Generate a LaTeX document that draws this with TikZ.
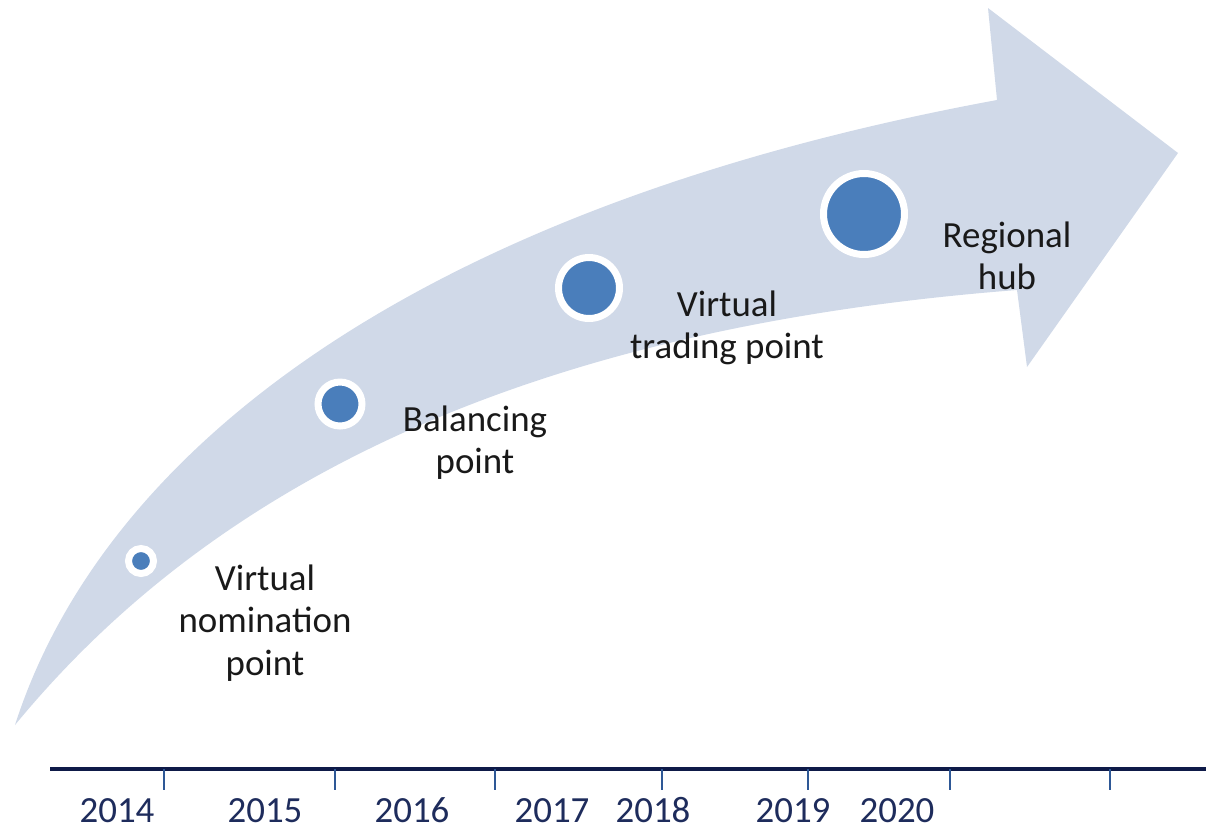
\documentclass[tikz,border=0pt]{standalone}
\usepackage{fontspec}
\setmainfont{Carlito}
\usepackage{xcolor}
\definecolor{shaftblue}{RGB}{208,217,232}
\definecolor{dotblue}{RGB}{74,126,187}
\definecolor{axisnavy}{RGB}{14,26,72}
\definecolor{tickblue}{RGB}{46,88,150}
\definecolor{yearnavy}{RGB}{30,44,92}

\tikzset{
    milestone/.style={circle, fill=dotblue, draw=white, line width=0.14cm, inner sep=0pt},
    stagelabel/.style={align=center, text=black!90, font=\fontsize{21}{24}\selectfont},
    yearlabel/.style={anchor=base, inner ysep=0pt, text depth=0pt, text=yearnavy, font=\fontsize{21}{24}\selectfont}
}

\begin{document}
\begin{tikzpicture}[x=0.02cm, y=-0.02cm]
                \useasboundingbox (0,0) rectangle (1206,833);

                % Freccia curva
                \fill[shaftblue] (15,725)
                    .. controls (100,460) and (400,210) .. (997,100)
                    -- (988,8) -- (1178,153) -- (1027,367) -- (1017,290)
                    .. controls (500,330) and (200,500) .. (15,725) -- cycle;

                % Tappe
                \node[milestone, minimum size=0.5cm] (vnp) at (141,561) {};
                \node[milestone, minimum size=0.88cm] (bp) at (340,404) {};
                \node[milestone, minimum size=1.22cm] (vtp) at (589,288) {};
                \node[milestone, minimum size=1.62cm] (hub) at (864,214) {};

                \node[stagelabel] (vnplabel) at (265,623) {Virtual\\nomination\\point};
                \node[stagelabel] (bplabel) at (475,443) {Balancing\\point};
                \node[stagelabel] (vtplabel) at (727,328) {Virtual\\trading point};
                \node[stagelabel] (hublabel) at (1007,256) {Regional\\hub};

                % Asse dei tempi
                \draw[axisnavy, line width=0.08cm] (50,769) -- (1206,769);
                \foreach \x in {164,335,495,662,808,950,1110}
                    \draw[tickblue, line width=0.045cm] (\x,769) -- (\x,790);

                \foreach \x/\anno in {117/2014,265/2015,412/2016,552/2017,653/2018,793/2019,897/2020}
                    \node[yearlabel] (y\anno) at (\x,822) {\anno};
            \end{tikzpicture}
\end{document}
